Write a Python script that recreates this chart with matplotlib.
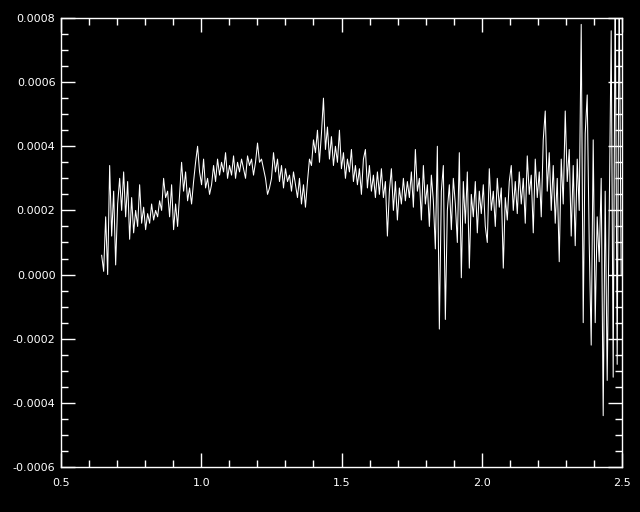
import numpy as np
import matplotlib
matplotlib.use("Agg")
import matplotlib.pyplot as plt
from matplotlib.ticker import MultipleLocator, FormatStrFormatter

# wavelength range of the spectrum (evenly sampled)
x_start = 0.645
x_end = 2.497

# flux values, in units of 1e-4 left to right
flux_a = [0.6, 0.1, 1.8, 0.0, 3.4, 1.2, 2.6, 0.3, 2.2, 3.0,
          2.0, 3.2, 1.8, 2.9, 1.1, 2.4, 1.3, 2.0, 1.5, 2.8,
          1.6, 2.1, 1.4, 1.9, 1.6, 2.2, 1.7, 2.0, 1.8, 2.3,
          2.0, 3.0, 2.4, 2.6, 1.8, 2.8, 1.4, 2.2, 1.5, 2.5,
          3.5, 2.6, 3.2, 2.3, 2.7, 2.2, 2.9, 3.5, 4.0, 3.2,
          2.8]
flux_b = [3.6, 2.7, 3.0, 2.5, 2.8, 3.4, 2.9, 3.6, 3.1, 3.5,
          3.2, 3.8, 3.0, 3.4, 3.1, 3.7, 3.0, 3.5, 3.2, 3.6,
          3.3, 3.0, 3.7, 3.4, 3.6, 3.1, 3.5, 4.1, 3.5, 3.6,
          3.3, 3.0, 2.5, 2.7, 3.0, 3.8, 3.2, 3.6, 2.9, 3.4,
          2.7, 3.3, 2.9, 3.1, 2.6, 3.2, 2.8, 2.4, 3.0, 2.2,
          2.8, 2.1]
flux_c = [2.9, 3.6, 3.4, 4.2, 3.8, 4.5, 3.5, 4.4, 5.5, 3.9,
          4.6, 3.6, 4.3, 3.4, 4.0, 3.5, 4.5, 3.3, 3.8, 3.0,
          3.6, 3.2, 3.9, 2.9, 3.4, 2.8, 3.3, 2.5, 3.6, 3.9,
          2.7, 3.4, 2.6, 3.1, 2.4, 3.2, 2.5, 3.3, 2.4, 2.9,
          1.2, 2.6, 3.3, 2.0, 2.9, 1.7, 2.7, 2.2, 3.0, 2.3,
          2.9, 2.4]
flux_d = [3.2, 2.1, 3.9, 2.6, 3.0, 1.7, 3.4, 2.2, 2.8, 1.5,
          3.1, 2.3, 0.8, 4.0, -1.7, 2.6, 3.4, -1.4, 2.0, 2.8,
          1.4, 3.0, 2.2, 1.0, 3.8, -0.1, 2.9, 1.6, 3.2, 0.2,
          2.5, 1.8, 2.9, 1.3, 2.6, 1.9, 2.8, 1.5, 1.0, 3.3,
          2.0, 2.6, 1.5, 3.0, 2.1, 2.7, 0.2, 2.4, 1.7, 2.9,
          3.4, 2.0]
flux_e = [2.9, 1.9, 3.2, 2.2, 3.0, 1.6, 3.7, 2.5, 3.1, 1.3,
          3.6, 2.4, 3.2, 1.8, 4.2, 5.1, 2.6, 3.8, 2.0, 3.4,
          1.6, 3.0, 0.4, 3.6, 2.2, 5.1, 2.9, 3.9, 1.2, 3.4,
          0.9, 3.6, 2.0, 7.8, -1.5, 4.4, 5.6, 1.0, -2.2, 4.2,
          -1.5, 1.8, 0.4, 3.0, -4.4, 2.6, -3.3, 1.8, 7.6, -3.2,
          9.0, -2.8, 9.0, 0.0]

xticks = [0.5, 1.0, 1.5, 2.0, 2.5]
yticks = [-0.0006, -0.0004, -0.0002, 0.0, 0.0002, 0.0004, 0.0006, 0.0008]


def main():
    flux = np.array(flux_a + flux_b + flux_c + flux_d + flux_e) * 1e-4
    wave = np.linspace(x_start, x_end, len(flux))

    fig = plt.figure(figsize=(6.4, 5.12), dpi=100, facecolor="black")
    ax = fig.add_axes([0.0953, 0.0879, 0.8766, 0.877])
    ax.set_facecolor("black")

    ax.plot(wave, flux, color="white", linewidth=0.75)

    ax.set_xlim(0.5, 2.5)
    ax.set_ylim(-0.0006, 0.0008)
    ax.set_xticks(xticks)
    ax.set_yticks(yticks)
    ax.xaxis.set_minor_locator(MultipleLocator(0.1))
    ax.yaxis.set_minor_locator(MultipleLocator(0.00005))
    ax.xaxis.set_major_formatter(FormatStrFormatter("%.1f"))
    ax.yaxis.set_major_formatter(FormatStrFormatter("%.4f"))

    for spine in ax.spines.values():
        spine.set_color("white")
        spine.set_linewidth(1.0)

    ax.tick_params(which="both", direction="in", top=True, right=True,
                   colors="white", labelcolor="white", labelsize=8)
    ax.tick_params(which="major", length=10, width=1)
    ax.tick_params(which="minor", length=5, width=1)
    ax.tick_params(axis="x", pad=8)
    ax.tick_params(axis="y", pad=4)

    fig.savefig("out.png", dpi=100, facecolor="black")


if __name__ == "__main__":
    main()
